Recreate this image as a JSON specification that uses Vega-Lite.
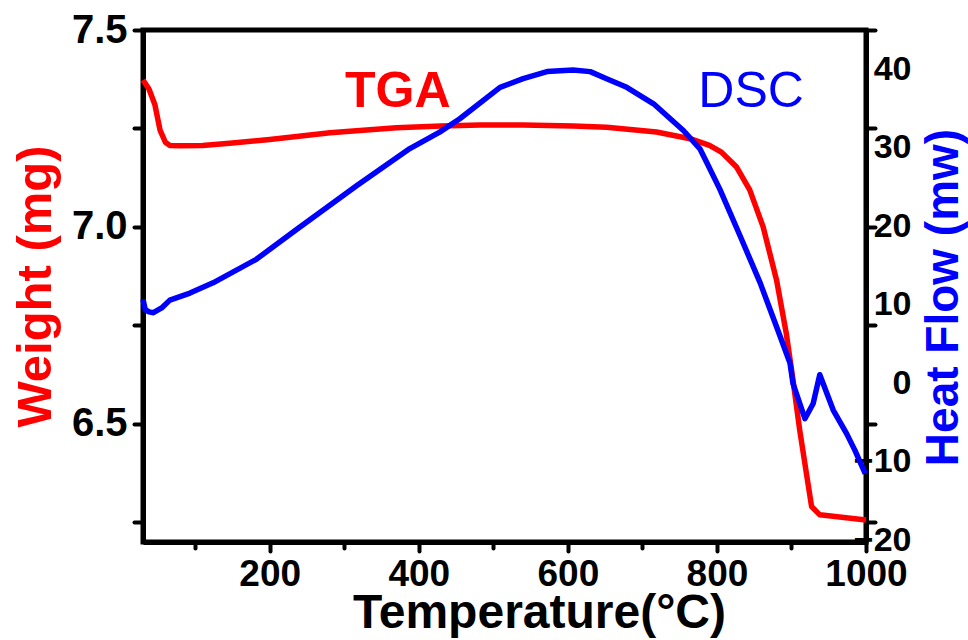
{
  "$schema": "https://vega.github.io/schema/vega-lite/v6.json",
  "width": 723,
  "height": 512,
  "autosize": {"type": "none"},
  "padding": {"left": 143, "top": 30, "right": 102, "bottom": 98},
  "background": "white",
  "config": {
    "view": {"stroke": "black", "strokeWidth": 5},
    "axis": {
      "domainColor": "black",
      "domainWidth": 5,
      "tickColor": "black",
      "tickWidth": 4,
      "tickCap": "round",
      "labelFont": "Liberation Sans",
      "labelFontWeight": "bold",
      "labelColor": "black",
      "titleFont": "Liberation Sans",
      "titleFontWeight": "bold",
      "grid": false,
      "labelOverlap": false,
      "labelFlush": false
    }
  },
  "datasets": {
    "tga": [
      {"T": 30, "W": 7.373}, {"T": 38, "W": 7.35}, {"T": 46, "W": 7.31}, {"T": 53, "W": 7.245},
      {"T": 60, "W": 7.215}, {"T": 66, "W": 7.207}, {"T": 80, "W": 7.206}, {"T": 110, "W": 7.207},
      {"T": 150, "W": 7.213}, {"T": 200, "W": 7.222}, {"T": 281, "W": 7.239}, {"T": 370, "W": 7.252},
      {"T": 430, "W": 7.256}, {"T": 482, "W": 7.259}, {"T": 540, "W": 7.259}, {"T": 607, "W": 7.256},
      {"T": 652, "W": 7.253}, {"T": 719, "W": 7.241}, {"T": 764, "W": 7.224}, {"T": 790, "W": 7.207},
      {"T": 806, "W": 7.19}, {"T": 826, "W": 7.153}, {"T": 844, "W": 7.094}, {"T": 862, "W": 7.0},
      {"T": 880, "W": 6.865}, {"T": 893, "W": 6.73}, {"T": 902, "W": 6.612}, {"T": 911, "W": 6.485},
      {"T": 920, "W": 6.375}, {"T": 927, "W": 6.29}, {"T": 938, "W": 6.269}, {"T": 1000, "W": 6.256}
    ],
    "dsc": [
      {"T": 30, "H": 10.7}, {"T": 33, "H": 9.4}, {"T": 38, "H": 9.1}, {"T": 44, "H": 9.0},
      {"T": 55, "H": 9.6}, {"T": 66, "H": 10.6}, {"T": 93, "H": 11.5}, {"T": 124, "H": 12.8},
      {"T": 182, "H": 15.8}, {"T": 236, "H": 19.6}, {"T": 317, "H": 25.2}, {"T": 388, "H": 29.9},
      {"T": 428, "H": 32.0}, {"T": 455, "H": 33.7}, {"T": 509, "H": 37.7}, {"T": 540, "H": 38.8},
      {"T": 572, "H": 39.7}, {"T": 607, "H": 39.9}, {"T": 630, "H": 39.7}, {"T": 652, "H": 38.8},
      {"T": 679, "H": 37.7}, {"T": 715, "H": 35.6}, {"T": 755, "H": 32.2}, {"T": 777, "H": 29.9},
      {"T": 786, "H": 28.2}, {"T": 804, "H": 24.7}, {"T": 831, "H": 18.8}, {"T": 858, "H": 12.8},
      {"T": 880, "H": 7.2}, {"T": 898, "H": 2.6}, {"T": 902, "H": 0.0}, {"T": 918, "H": -4.5},
      {"T": 929, "H": -2.6}, {"T": 938, "H": 1.1}, {"T": 956, "H": -3.4}, {"T": 974, "H": -6.4},
      {"T": 985, "H": -8.5}, {"T": 999, "H": -11.5}
    ]
  },
  "encoding": {
    "x": {
      "field": "T",
      "type": "quantitative",
      "scale": {"domain": [30, 1000], "nice": false, "zero": false},
      "axis": {
        "title": "Temperature(°C)",
        "titleFontSize": 48,
        "titleColor": "black",
        "titleX": 396,
        "titleY": 85,
        "titleAlign": "center",
        "titleBaseline": "alphabetic",
        "values": [100, 200, 300, 400, 500, 600, 700, 800, 900, 1000],
        "labelExpr": "datum.value % 200 == 0 ? format(datum.value, 'd') : ''",
        "labelFontSize": 37,
        "labelPadding": 5,
        "tickSize": {"condition": {"test": "datum.value % 200 == 0", "value": 9}, "value": 6}
      }
    }
  },
  "layer": [
    {
      "layer": [
        {
          "data": {"name": "tga"},
          "mark": {"type": "line", "color": "#ff0000", "strokeWidth": 5.5, "strokeJoin": "round"},
          "encoding": {
            "y": {
              "field": "W",
              "type": "quantitative",
              "scale": {"domain": [6.2, 7.5], "nice": false, "zero": false},
              "axis": {
                "title": "Weight (mg)",
                "titleColor": "#ff0000",
                "titleFontSize": 49,
                "titlePadding": 11,
                "values": [6.25, 6.5, 6.75, 7, 7.25, 7.5],
                "labelExpr": "(datum.value == 6.5 || datum.value == 7 || datum.value == 7.5) ? format(datum.value, '.1f') : ''",
                "labelFontSize": 40,
                "labelPadding": 7,
                "tickSize": 9
              }
            }
          }
        },
        {
          "data": {"values": [{"T": 301, "W": 7.305, "label": "TGA"}]},
          "mark": {"type": "text", "color": "#ff0000", "font": "Liberation Sans", "fontWeight": "bold", "fontSize": 50, "align": "left", "baseline": "alphabetic"},
          "encoding": {
            "y": {"field": "W", "type": "quantitative"},
            "text": {"field": "label"}
          }
        },
        {
          "data": {"values": [{"T": 775, "W": 7.305, "label": "DSC"}]},
          "mark": {"type": "text", "color": "#0000ff", "font": "Liberation Sans", "fontWeight": "normal", "fontSize": 50, "align": "left", "baseline": "alphabetic"},
          "encoding": {
            "y": {"field": "W", "type": "quantitative"},
            "text": {"field": "label"}
          }
        }
      ]
    },
    {
      "data": {"name": "dsc"},
      "mark": {"type": "line", "color": "#0000ff", "strokeWidth": 5.5, "strokeJoin": "round"},
      "encoding": {
        "y": {
          "field": "H",
          "type": "quantitative",
          "scale": {"domain": [-20.2, 45], "nice": false, "zero": false},
          "axis": {
            "orient": "right",
            "title": "Heat Flow (mw)",
            "titleColor": "#0000ff",
            "titleFontSize": 46,
            "titleAngle": 270,
            "titleBaseline": "top",
            "titleAlign": "center",
            "titleX": 55,
            "titleY": 267,
            "values": [-20, -10, 0, 10, 20, 30, 40],
            "labelFontSize": 34,
            "labelAlign": "right",
            "labelPadding": 45,
            "ticks": false
          }
        }
      }
    },
    {
      "data": {"name": "tga"},
      "mark": {"type": "line", "strokeOpacity": 0},
      "encoding": {
        "y": {
          "field": "W",
          "type": "quantitative",
          "scale": {"domain": [6.2, 7.5], "nice": false, "zero": false},
          "axis": {
            "orient": "right",
            "title": null,
            "labels": false,
            "domain": false,
            "values": [6.25, 6.5, 6.75, 7, 7.25, 7.5],
            "tickSize": 9
          }
        }
      }
    }
  ],
  "resolve": {"scale": {"y": "independent"}}
}
